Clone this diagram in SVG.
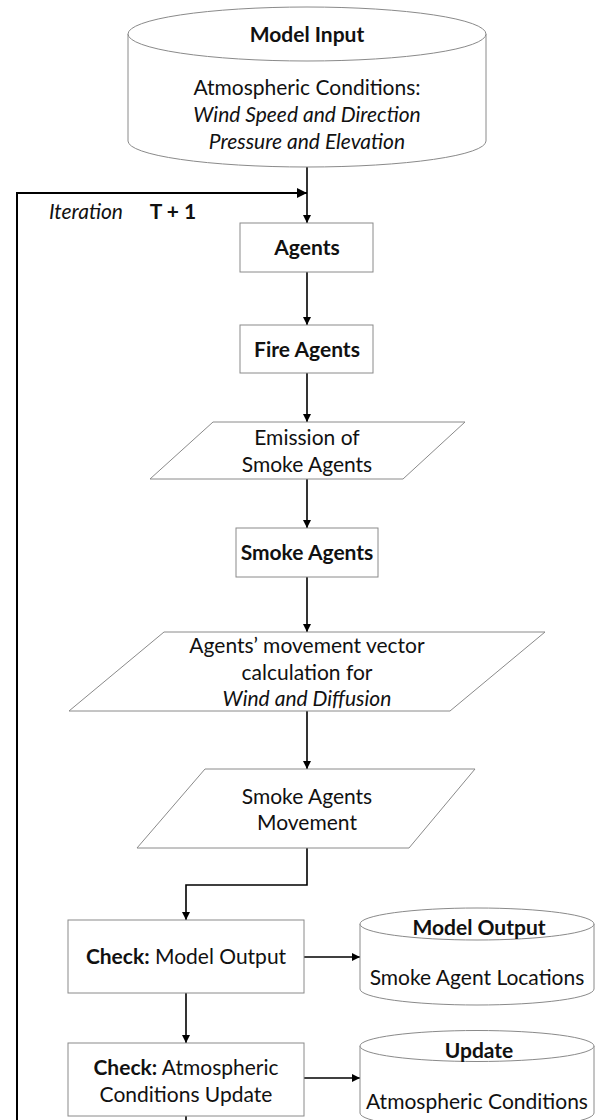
<svg xmlns="http://www.w3.org/2000/svg" width="595" height="1120" viewBox="0 0 595 1120">
<style>
.shape{fill:#ffffff;stroke:#8a8a8a;stroke-width:1}
.conn{fill:none;stroke:#000000;stroke-width:1.6}
text{font-family:Lato,"Open Sans","Liberation Sans",sans-serif;font-size:21px;fill:#111111;text-anchor:middle}
.b{font-weight:bold}
.i{font-style:italic}
</style>
<defs>
<marker id="arr" viewBox="0 0 10 10" refX="10" refY="5" markerWidth="5" markerHeight="5" orient="auto" markerUnits="strokeWidth">
<path d="M0,0 L10,5 L0,10 z" fill="#000000"/>
</marker>
</defs>
<rect width="595" height="1120" fill="#ffffff"/>

<g id="connectors">
<line class="conn" x1="307" y1="167" x2="307" y2="223" marker-end="url(#arr)"/>
<polyline class="conn" points="17,1120 17,193 307,193" marker-end="url(#arr)" style="stroke-width:2"/>
<line class="conn" x1="307" y1="272" x2="307" y2="325" marker-end="url(#arr)"/>
<line class="conn" x1="307" y1="373" x2="307" y2="422" marker-end="url(#arr)"/>
<line class="conn" x1="307" y1="479" x2="307" y2="528" marker-end="url(#arr)"/>
<line class="conn" x1="307" y1="577" x2="307" y2="632" marker-end="url(#arr)"/>
<line class="conn" x1="307" y1="711" x2="307" y2="769" marker-end="url(#arr)"/>
<polyline class="conn" points="307,848 307,885 186,885 186,920" marker-end="url(#arr)"/>
<line class="conn" x1="304" y1="957" x2="360" y2="957" marker-end="url(#arr)"/>
<line class="conn" x1="186" y1="993" x2="186" y2="1043" marker-end="url(#arr)"/>
<line class="conn" x1="304" y1="1078" x2="360" y2="1078" marker-end="url(#arr)"/>
<line class="conn" x1="186" y1="1116" x2="186" y2="1120"/>
</g>

<g id="model-input">
<path class="shape" d="M128,34 L128,141 A179,26 0 0 0 486,141 L486,34"/>
<ellipse class="shape" cx="307" cy="34" rx="179" ry="27"/>
<text class="b" x="307" y="42">Model Input</text>
<text x="307" y="95">Atmospheric Conditions:</text>
<text class="i" x="307" y="122">Wind Speed and Direction</text>
<text class="i" x="307" y="149">Pressure and Elevation</text>
</g>

<g id="iteration-label">
<text class="i" x="86" y="219">Iteration</text>
<text class="b" x="173" y="219">T + 1</text>
</g>

<g id="agents">
<rect class="shape" x="240" y="223" width="133" height="49"/>
<text class="b" x="307" y="255">Agents</text>
</g>

<g id="fire-agents">
<rect class="shape" x="240" y="325" width="133" height="48"/>
<text class="b" x="307" y="357">Fire Agents</text>
</g>

<g id="emission">
<polygon class="shape" points="213,422 465,422 403,479 150,479"/>
<text x="307" y="445">Emission of</text>
<text x="307" y="472">Smoke Agents</text>
</g>

<g id="smoke-agents">
<rect class="shape" x="236" y="528" width="142" height="49"/>
<text class="b" x="307" y="560">Smoke Agents</text>
</g>

<g id="movement-vector">
<polygon class="shape" points="164,632 545,632 450,711 69,711"/>
<text x="307" y="653">Agents’ movement vector</text>
<text x="307" y="680">calculation for</text>
<text class="i" x="307" y="706">Wind and Diffusion</text>
</g>

<g id="smoke-movement">
<polygon class="shape" points="205,769 475,769 409,848 137,848"/>
<text x="307" y="804">Smoke Agents</text>
<text x="307" y="830">Movement</text>
</g>

<g id="check-output">
<rect class="shape" x="68" y="920" width="236" height="73"/>
<text x="186" y="964"><tspan class="b">Check:</tspan> Model Output</text>
</g>

<g id="model-output">
<path class="shape" d="M360,924 L360,989 A117,16 0 0 0 594,989 L594,924"/>
<ellipse class="shape" cx="477" cy="924" rx="117" ry="16"/>
<text class="b" x="479" y="935">Model Output</text>
<text x="477" y="985">Smoke Agent Locations</text>
</g>

<g id="check-atmos">
<rect class="shape" x="68" y="1043" width="236" height="73"/>
<text x="186" y="1075"><tspan class="b">Check:</tspan> Atmospheric</text>
<text x="186" y="1102">Conditions Update</text>
</g>

<g id="update">
<path class="shape" d="M360,1046 L360,1113 A117,16 0 0 0 594,1113 L594,1046"/>
<ellipse class="shape" cx="477" cy="1046" rx="117" ry="15.5"/>
<text class="b" x="479" y="1058">Update</text>
<text x="477" y="1109">Atmospheric Conditions</text>
</g>
</svg>
